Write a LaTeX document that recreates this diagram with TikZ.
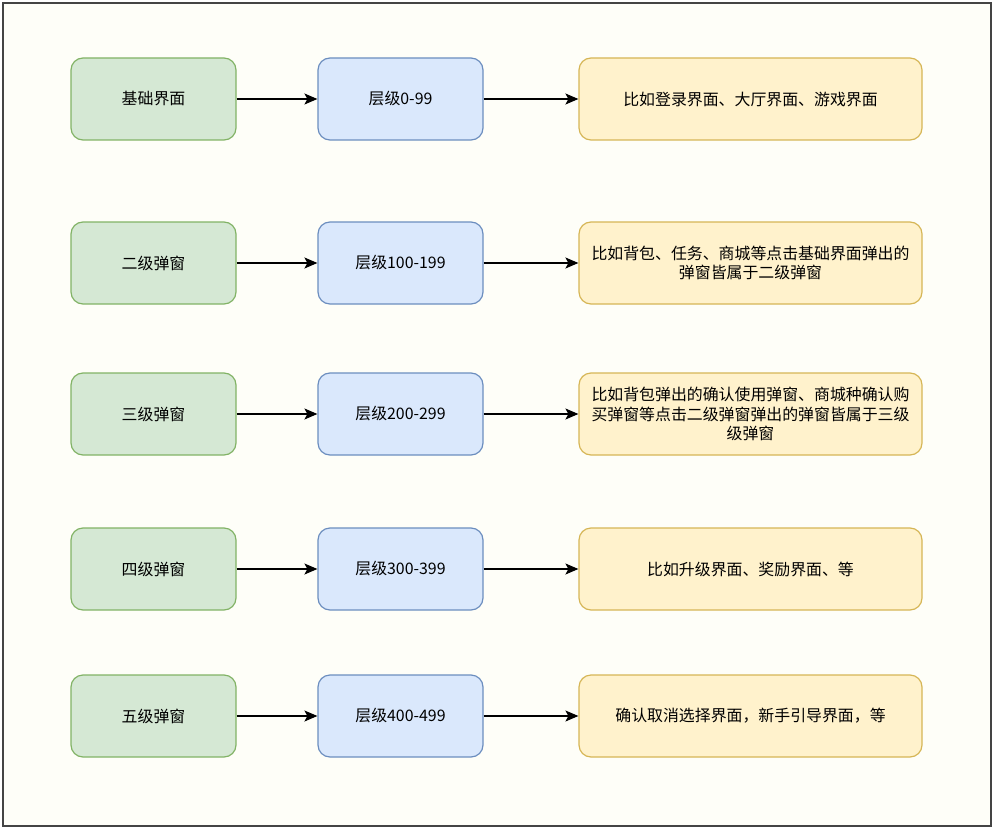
\documentclass[tikz,border=0pt]{standalone}
\usepackage{fontspec}
\setmainfont{Noto Sans CJK SC}
\usetikzlibrary{arrows.meta}
\definecolor{gfill}{HTML}{D5E8D4}
\definecolor{gdraw}{HTML}{82B366}
\definecolor{bfill}{HTML}{DAE8FC}
\definecolor{bdraw}{HTML}{6C8EBF}
\definecolor{yfill}{HTML}{FFF2CC}
\definecolor{ydraw}{HTML}{D6B656}
\definecolor{pagebg}{HTML}{FEFEF8}
\definecolor{frame}{HTML}{444444}
\tikzset{
  box/.style={rounded corners=12pt, line width=1.2pt, inner sep=0pt, align=center,
    font=\fontsize{15.9pt}{19.5pt}\selectfont, text=black},
  gbox/.style={box, fill=gfill, draw=gdraw, minimum width=165pt, minimum height=82pt},
  bbox/.style={box, fill=bfill, draw=bdraw, minimum width=165pt, minimum height=82pt},
  ybox/.style={box, fill=yfill, draw=ydraw, minimum width=343pt, minimum height=82pt},
  conn/.style={-{Stealth[length=13pt,width=11pt,inset=3pt]}, line width=1.2pt, black}
}
\begin{document}
\begin{tikzpicture}[x=1pt,y=-1pt]
\useasboundingbox (0,0) rectangle (995,829);
\fill[white] (0,0) rectangle (995,829);
\draw[frame, line width=2pt, fill=pagebg] (3,3) rectangle (991,826);
\node[gbox] (g1) at (153.5,99) {基础界面};
\node[bbox] (b1) at (400.5,99) {层级0-99};
\node[ybox] (y1) at (750.5,99) {比如登录界面、大厅界面、游戏界面};
\node[gbox] (g2) at (153.5,263) {二级弹窗};
\node[bbox] (b2) at (400.5,263) {层级100-199};
\node[ybox] (y2) at (750.5,263) {比如背包、任务、商城等点击基础界面弹出的\\弹窗皆属于二级弹窗};
\node[gbox] (g3) at (153.5,414) {三级弹窗};
\node[bbox] (b3) at (400.5,414) {层级200-299};
\node[ybox] (y3) at (750.5,414) {比如背包弹出的确认使用弹窗、商城种确认购\\买弹窗等点击二级弹窗弹出的弹窗皆属于三级\\级弹窗};
\node[gbox] (g4) at (153.5,569) {四级弹窗};
\node[bbox] (b4) at (400.5,569) {层级300-399};
\node[ybox] (y4) at (750.5,569) {比如升级界面、奖励界面、等};
\node[gbox] (g5) at (153.5,716) {五级弹窗};
\node[bbox] (b5) at (400.5,716) {层级400-499};
\node[ybox] (y5) at (750.5,716) {确认取消选择界面，新手引导界面，等};
\foreach \i in {1,...,5}{
  \draw[conn] (g\i) -- (b\i);
  \draw[conn] (b\i) -- (y\i);
}
\end{tikzpicture}
\end{document}
